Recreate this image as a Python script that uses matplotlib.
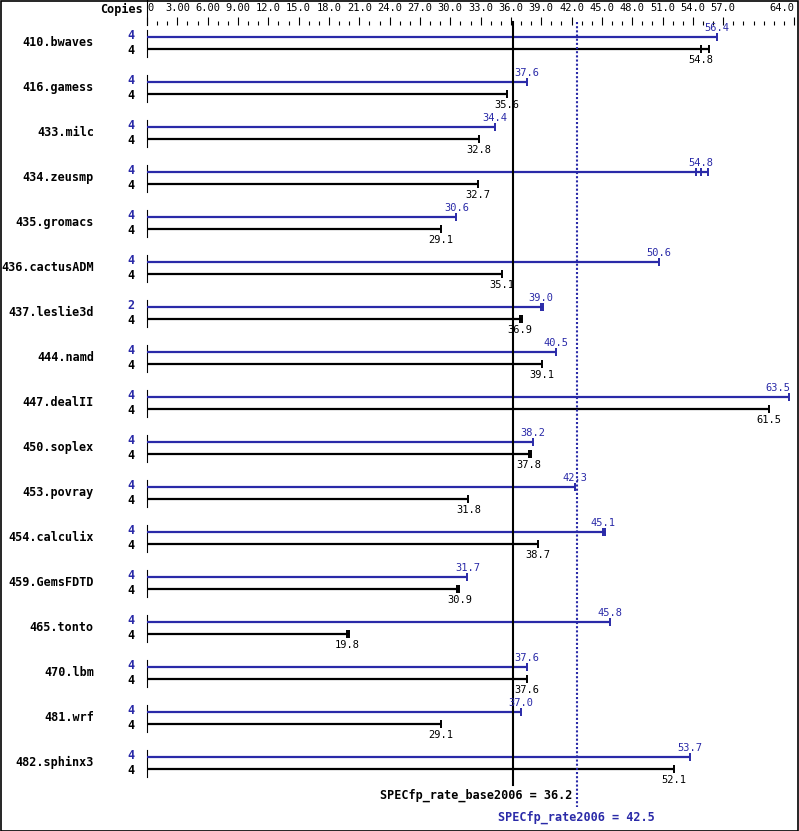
import matplotlib.pyplot as plt
from matplotlib.patches import Rectangle

# benchmark data (copies, median ratio, other run ratios)
benchmarks = ['410.bwaves', '416.gamess', '433.milc', '434.zeusmp', '435.gromacs',
              '436.cactusADM', '437.leslie3d', '444.namd', '447.dealII', '450.soplex',
              '453.povray', '454.calculix', '459.GemsFDTD', '465.tonto', '470.lbm',
              '481.wrf', '482.sphinx3']
peak = [56.4, 37.6, 34.4, 54.8, 30.6, 50.6, 39.0, 40.5, 63.5, 38.2,
        42.3, 45.1, 31.7, 45.8, 37.6, 37.0, 53.7]
base = [54.8, 35.6, 32.8, 32.7, 29.1, 35.1, 36.9, 39.1, 61.5, 37.8,
        31.8, 38.7, 30.9, 19.8, 37.6, 29.1, 52.1]
peak_copies = [4, 4, 4, 4, 4, 4, 2, 4, 4, 4, 4, 4, 4, 4, 4, 4, 4]
base_copies = [4] * 17
peak_runs = {3: [54.3, 55.5], 6: [39.2], 11: [45.3]}
base_runs = {0: [55.6], 6: [37.1], 9: [37.95], 12: [30.7], 13: [20.0]}

base_score = 36.2
peak_score = 42.5

tick_major = [0, 3, 6, 9, 12, 15, 18, 21, 24, 27, 30, 33, 36, 39, 42, 45, 48, 51, 54, 57, 64]
tick_labels = ['0', '3.00', '6.00', '9.00', '12.0', '15.0', '18.0', '21.0', '24.0', '27.0',
               '30.0', '33.0', '36.0', '39.0', '42.0', '45.0', '48.0', '51.0', '54.0',
               '57.0', '64.0']

blue = '#2a2aa8'
mono = 'DejaVu Sans Mono'
xmax = 64

W, H = 799, 831
fig = plt.figure(figsize=(W / 100, H / 100), dpi=100)
ax = fig.add_axes([147 / W, 1 - 785 / H, (794 - 147) / W, (785 - 25) / H])
ax.set_xlim(0, xmax)
ax.set_ylim(16.49, -0.4)
for s in ax.spines.values():
    s.set_visible(False)
ax.set_yticks([])

ax.xaxis.tick_top()
ax.set_xticks(tick_major)
ax.set_xticklabels(tick_labels, fontfamily=mono, fontsize=7.5)
ax.set_xticks(range(0, 65), minor=True)
ax.tick_params(axis='x', which='major', length=6, width=0.8, pad=2.5)
ax.tick_params(axis='x', which='minor', length=3, width=0.8)
lbls = ax.get_xticklabels()
lbls[0].set_ha('left')
lbls[-1].set_ha('right')

# vertical line at left of axis header
fig.add_artist(plt.Line2D([147 / W, 147 / W], [1.0, 1 - 25 / H], color='black', lw=0.8))
fig.text(143 / W, 1 - 9 / H, 'Copies', fontfamily=mono, fontweight='bold', fontsize=8.5,
         ha='right', va='center')


def value_label(x, y, color):
    # keep labels near the right edge inside the frame
    if x > xmax - 2:
        ax.text(xmax - 0.4, y, f'{x:.1f}', color=color, fontfamily=mono, fontsize=7.5,
                ha='right', va='center', clip_on=False)
    else:
        ax.text(x, y, f'{x:.1f}', color=color, fontfamily=mono, fontsize=7.5,
                ha='center', va='center', clip_on=False)


off = 0.135
for i, name in enumerate(benchmarks):
    ax.plot([0, 0], [i - 0.29, i + 0.31], color='black', lw=0.8, clip_on=False)
    ax.text(-5.25, i, name, fontfamily=mono, fontweight='bold', fontsize=8.5,
            ha='right', va='center', clip_on=False)
    ax.text(-1.6, i - off - 0.03, str(peak_copies[i]), color=blue, fontfamily=mono,
            fontweight='bold', fontsize=8.5, ha='center', va='center', clip_on=False)
    ax.text(-1.6, i + off + 0.03, str(base_copies[i]), color='black', fontfamily=mono,
            fontweight='bold', fontsize=8.5, ha='center', va='center', clip_on=False)

    pr = [peak[i]] + peak_runs.get(i, [])
    ax.plot([0, max(pr)], [i - off, i - off], color=blue, lw=1.6, solid_capstyle='butt',
            clip_on=False)
    ax.plot(pr, [i - off] * len(pr), ls='none', marker='|', ms=6, mew=1.4, color=blue,
            clip_on=False)
    value_label(peak[i], i - 0.34, blue)

    br = [base[i]] + base_runs.get(i, [])
    ax.plot([0, max(br)], [i + off, i + off], color='black', lw=1.6, solid_capstyle='butt',
            clip_on=False)
    ax.plot(br, [i + off] * len(br), ls='none', marker='|', ms=6, mew=1.4, color='black',
            clip_on=False)
    value_label(base[i], i + 0.38, 'black')

# overall scores
ax.plot([base_score, base_score], [-0.47, 16.5], color='black', lw=1.5, clip_on=False)
ax.plot([peak_score, peak_score], [-0.47, 16.98], color=blue, lw=1.5, ls=(0, (1, 1)),
        clip_on=False)
ax.text(42.1, 16.71, f'SPECfp_rate_base2006 = {base_score}', fontfamily=mono,
        fontweight='bold', fontsize=8.5, ha='right', va='center', clip_on=False)
ax.text(peak_score, 17.2, f'SPECfp_rate2006 = {peak_score}', color=blue, fontfamily=mono,
        fontweight='bold', fontsize=8.5, ha='center', va='center', clip_on=False)

fig.add_artist(Rectangle((0.5 / W, 0.5 / H), (W - 2) / W, (H - 1.5) / H, fill=False,
                         edgecolor='black', lw=1.2, transform=fig.transFigure))

fig.savefig('out.png', dpi=100)
